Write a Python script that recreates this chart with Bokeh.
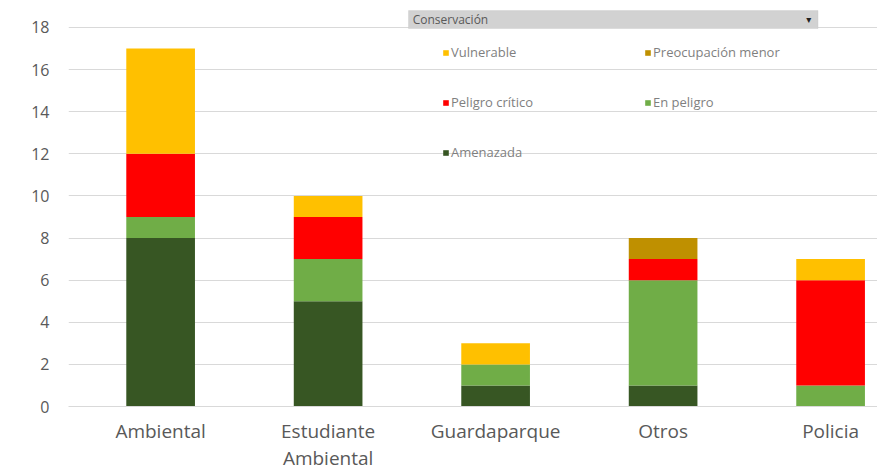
from bokeh.plotting import figure
from bokeh.models import (ColumnDataSource, Legend, LegendItem, BoxAnnotation,
                          Label, Range1d, FixedTicker)
from bokeh.embed import file_html
from bokeh.resources import INLINE

categories = ["Ambiental", "Estudiante\nAmbiental", "Guardaparque", "Otros", "Policia"]
amenazada = [8, 5, 1, 1, 0]
en_peligro = [1, 2, 1, 5, 1]
peligro_critico = [3, 2, 0, 1, 5]
preocupacion_menor = [0, 0, 0, 1, 0]
vulnerable = [5, 1, 1, 0, 1]
y_ticks = [0, 2, 4, 6, 8, 10, 12, 14, 16, 18]
legend_title = "Conservación"

series = ["Amenazada", "En peligro", "Peligro crítico", "Preocupación menor", "Vulnerable"]
colors = ["#375623", "#70AD47", "#FF0000", "#BF9000", "#FFC000"]
# column-major legend fill: first column, then second column
legend_order = ["Vulnerable", "Peligro crítico", "Amenazada", "Preocupación menor", "En peligro"]

xs = list(range(len(categories)))
source = ColumnDataSource(dict(
    x=xs,
    **{"Amenazada": amenazada, "En peligro": en_peligro,
       "Peligro crítico": peligro_critico, "Preocupación menor": preocupacion_menor,
       "Vulnerable": vulnerable}))

FONT = "Open Sans"
GREY = "#595959"

p = figure(width=877, height=474, x_range=Range1d(-0.55, 4.28), y_range=Range1d(0, 19.28),
           output_backend="svg", toolbar_location=None,
           min_border_left=68, min_border_right=0, min_border_top=0, min_border_bottom=68)
p.outline_line_color = None
p.background_fill_color = "white"
p.border_fill_color = "white"

renderers = p.vbar_stack(series, x="x", width=0.41, source=source, color=colors, line_color=None)

p.xgrid.grid_line_color = None
p.ygrid.grid_line_color = "#D9D9D9"
p.ygrid.ticker = FixedTicker(ticks=y_ticks)

p.yaxis.ticker = FixedTicker(ticks=y_ticks)
p.yaxis.axis_line_color = None
p.yaxis.major_tick_line_color = None
p.yaxis.minor_tick_line_color = None
p.yaxis.major_label_standoff = 13
p.yaxis.major_label_text_font = FONT
p.yaxis.major_label_text_font_size = "16px"
p.yaxis.major_label_text_color = GREY

p.xaxis.ticker = FixedTicker(ticks=xs)
p.xaxis.major_label_overrides = {i: c for i, c in enumerate(categories)}
p.xaxis.axis_line_color = "#D9D9D9"
p.xaxis.major_tick_line_color = None
p.xaxis.minor_tick_line_color = None
p.xaxis.major_tick_in = 0
p.xaxis.major_tick_out = 0
p.xaxis.major_label_standoff = 11
p.xaxis.major_label_text_font = FONT
p.xaxis.major_label_text_font_size = "19px"
p.xaxis.major_label_text_line_height = 1.05
p.xaxis.major_label_text_color = GREY

# filter header bar
p.add_layout(BoxAnnotation(left=1.48, right=3.925, bottom=17.95, top=18.8,
                           fill_color="#D2D2D2", fill_alpha=1.0,
                           line_color="#BFBFBF", line_width=1))
p.add_layout(Label(x=1.505, y=18.37, text=legend_title, text_font=FONT, text_font_size="12px",
                   text_color=GREY, text_baseline="middle"))
p.add_layout(Label(x=3.87, y=18.37, text="▾", text_font="DejaVu Sans", text_font_size="10px",
                   text_color="#222222", text_baseline="middle", text_align="center"))

rmap = dict(zip(series, renderers))
items = [LegendItem(label=s, renderers=[rmap[s]]) for s in legend_order]
legend = Legend(items=items, ncols=2, location=(374, 245),
                background_fill_alpha=0, border_line_alpha=0,
                padding=0, margin=0, spacing=32, label_height=14,
                glyph_width=7, glyph_height=7, label_standoff=2, label_width=161,
                label_text_font=FONT, label_text_font_size="13px", label_text_color="#7F7F7F")
p.add_layout(legend)

open("out.html", "w").write(file_html(p, INLINE))
